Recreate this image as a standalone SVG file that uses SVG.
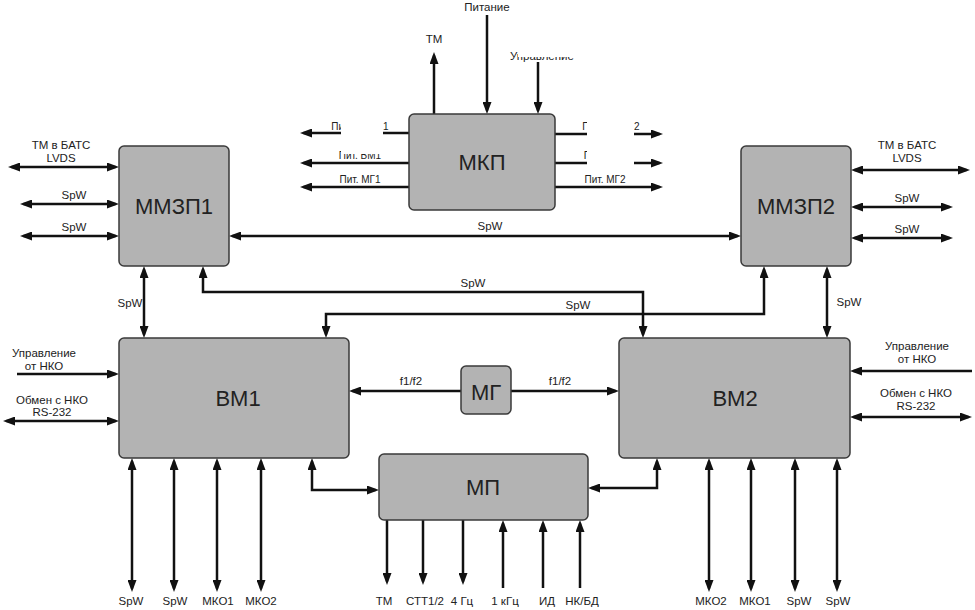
<svg xmlns="http://www.w3.org/2000/svg" width="975" height="610" viewBox="0 0 975 610">
<style>
.ln{fill:none;stroke:#111;stroke-width:2.5}
.e{marker-end:url(#ah)}
.b{marker-start:url(#ah);marker-end:url(#ah)}
.box{fill:#b3b3b3;stroke:#3a3a3a;stroke-width:1.5}
.lb{font-family:"Liberation Sans",Arial,sans-serif;font-size:11.5px;fill:#222;text-anchor:middle}
.sm{font-size:10px}
.nm{font-family:"Liberation Sans",Arial,sans-serif;font-size:22px;fill:#222;text-anchor:middle}
.mask{fill:#fff;stroke:none}
</style>
<defs>
<marker id="ah" viewBox="0 0 12 9" refX="8.5" refY="4.5" markerWidth="12" markerHeight="9" markerUnits="userSpaceOnUse" orient="auto-start-reverse">
<path d="M0,0 L12,4.5 L0,9 z" fill="#111"/>
</marker>
</defs>
<rect width="975" height="610" fill="#fff"/>
<g id="connectors">
<path class="ln e" d="M434,114 L434,55.5"/>
<path class="ln e" d="M487,15 L487,110.5"/>
<path class="ln e" d="M538,62 L538,110.5"/>
<path class="ln e" d="M409,133 L303.5,133"/>
<path class="ln e" d="M409,163 L303.5,163"/>
<path class="ln e" d="M409,187 L303.5,187"/>
<path class="ln e" d="M555,134 L659.5,134"/>
<path class="ln e" d="M555,163 L659.5,163"/>
<path class="ln e" d="M555,187 L659.5,187"/>
<text class="lb" x="434" y="43">ТМ</text>
<text class="lb" x="487" y="11">Питание</text>
<text class="lb" x="510" y="60" style="text-anchor:start">Управление</text>
<text class="lb sm" x="360" y="130">Пит. ММЗП1</text>
<text class="lb sm" x="360" y="159">Пит. ВМ1</text>
<text class="lb sm" x="360" y="183">Пит. МГ1</text>
<text class="lb sm" x="611" y="130">Пит. ММЗП2</text>
<text class="lb sm" x="605" y="159">Пит. ВМ2</text>
<text class="lb sm" x="605" y="183">Пит. МГ2</text>
<rect class="mask" x="341" y="110" width="42" height="44"/>
<rect class="mask" x="587" y="110" width="47" height="62"/>
<rect class="mask" x="518" y="40" width="64" height="17"/>
<path class="ln b" d="M11.5,167 L115.5,167"/>
<path class="ln b" d="M23.5,204 L115.5,204"/>
<path class="ln b" d="M23.5,236 L115.5,236"/>
<text class="lb" x="61" y="149">ТМ в БАТС</text>
<text class="lb" x="61" y="162">LVDS</text>
<text class="lb" x="74" y="199">SpW</text>
<text class="lb" x="74" y="231">SpW</text>
<path class="ln b" d="M232.5,236 L737.5,236"/>
<text class="lb" x="490" y="230">SpW</text>
<path class="ln b" d="M854.5,170 L966.5,170"/>
<path class="ln b" d="M854.5,207 L949.5,207"/>
<path class="ln b" d="M854.5,238 L949.5,238"/>
<text class="lb" x="907" y="149">ТМ в БАТС</text>
<text class="lb" x="907" y="162">LVDS</text>
<text class="lb" x="907" y="202">SpW</text>
<text class="lb" x="907" y="233">SpW</text>
<path class="ln b" d="M144,269.5 L144,334.5"/>
<text class="lb" x="130" y="307">SpW</text>
<path class="ln b" d="M827,269.5 L827,334.5"/>
<text class="lb" x="849" y="306">SpW</text>
<path class="ln b" d="M203,269.5 L203,292 L643,292 L643,334.5"/>
<text class="lb" x="473" y="287">SpW</text>
<path class="ln b" d="M326,334.5 L326,314 L764,314 L764,269.5"/>
<text class="lb" x="578" y="309">SpW</text>
<path class="ln e" d="M461,391 L352.5,391"/>
<path class="ln e" d="M511,391 L615.5,391"/>
<text class="lb" x="411" y="385">f1/f2</text>
<text class="lb" x="560" y="385">f1/f2</text>
<path class="ln e" d="M17,374 L115.5,374"/>
<path class="ln b" d="M6.5,421 L115.5,421"/>
<text class="lb" x="44" y="357">Управление</text>
<text class="lb" x="44" y="370">от НКО</text>
<text class="lb" x="52" y="404">Обмен с НКО</text>
<text class="lb" x="52" y="416">RS-232</text>
<path class="ln e" d="M972,371 L853.5,371"/>
<path class="ln b" d="M853.5,417 L968.5,417"/>
<text class="lb" x="917" y="350">Управление</text>
<text class="lb" x="917" y="363">от НКО</text>
<text class="lb" x="916" y="397">Обмен с НКО</text>
<text class="lb" x="916" y="410">RS-232</text>
<path class="ln b" d="M132,461.5 L132,588.5"/>
<path class="ln b" d="M174,461.5 L174,588.5"/>
<path class="ln b" d="M217,461.5 L217,588.5"/>
<path class="ln b" d="M261,461.5 L261,588.5"/>
<text class="lb" x="131" y="605">SpW</text>
<text class="lb" x="175" y="605">SpW</text>
<text class="lb" x="218" y="605">МКО1</text>
<text class="lb" x="261" y="605">МКО2</text>
<path class="ln b" d="M312,461.5 L312,490 L375.5,490"/>
<path class="ln b" d="M657,461.5 L657,488 L591.5,488"/>
<path class="ln e" d="M387,520 L387,581.5"/>
<path class="ln e" d="M423,520 L423,581.5"/>
<path class="ln e" d="M463,520 L463,581.5"/>
<path class="ln e" d="M503,588 L503,523.5"/>
<path class="ln e" d="M543,588 L543,523.5"/>
<path class="ln e" d="M580,588 L580,523.5"/>
<text class="lb" x="384" y="605">ТМ</text>
<text class="lb" x="425" y="605">СТТ1/2</text>
<text class="lb" x="462" y="605">4 Гц</text>
<text class="lb" x="505" y="605">1 кГц</text>
<text class="lb" x="547" y="605">ИД</text>
<text class="lb" x="582" y="605">НК/БД</text>
<path class="ln b" d="M709,461.5 L709,588.5"/>
<path class="ln b" d="M751,461.5 L751,588.5"/>
<path class="ln b" d="M795,461.5 L795,588.5"/>
<path class="ln b" d="M837,461.5 L837,588.5"/>
<text class="lb" x="711" y="605">МКО2</text>
<text class="lb" x="755" y="605">МКО1</text>
<text class="lb" x="799" y="605">SpW</text>
<text class="lb" x="838" y="605">SpW</text>
</g>
<g id="node-mkp"><rect class="box" x="409" y="114" width="146" height="96" rx="5"/><text class="nm" x="482" y="170">МКП</text></g>
<g id="node-mmzp1"><rect class="box" x="119" y="146" width="110" height="120" rx="5"/><text class="nm" x="174" y="214">ММЗП1</text></g>
<g id="node-mmzp2"><rect class="box" x="741" y="146" width="110" height="120" rx="5"/><text class="nm" x="796" y="214">ММЗП2</text></g>
<g id="node-vm1"><rect class="box" x="119" y="338" width="230" height="120" rx="5"/><text class="nm" x="238" y="406">ВМ1</text></g>
<g id="node-vm2"><rect class="box" x="619" y="338" width="231" height="120" rx="5"/><text class="nm" x="735" y="406">ВМ2</text></g>
<g id="node-mg"><rect class="box" x="461" y="366" width="50" height="48" rx="5"/><text class="nm" x="486" y="400">МГ</text></g>
<g id="node-mp"><rect class="box" x="379" y="454" width="209" height="66" rx="5"/><text class="nm" x="483" y="495">МП</text></g>
</svg>
